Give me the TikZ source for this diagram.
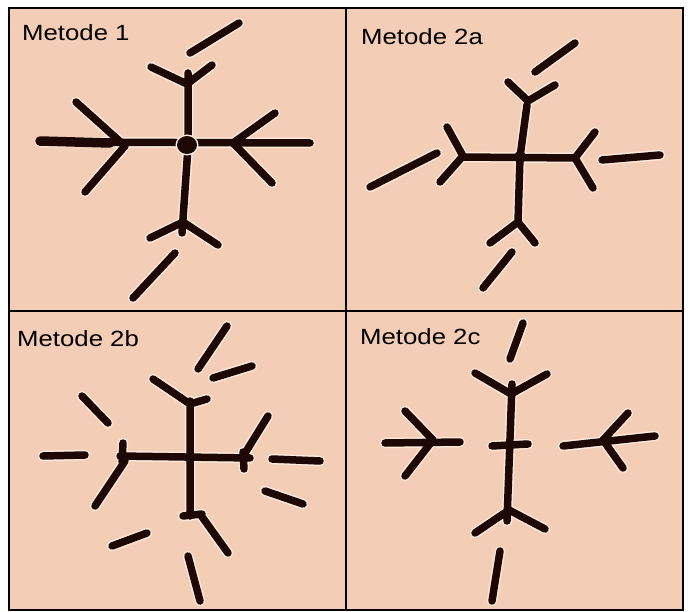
\documentclass[tikz,border=0pt]{standalone}
\usepackage{fontspec}
\setmainfont{Liberation Sans}
\definecolor{paper}{RGB}{244,205,182}
\definecolor{halo}{RGB}{252,234,222}
\definecolor{ink}{RGB}{30,8,5}
\tikzset{
  inkline/.style={draw=ink, line width=7.5pt, line cap=round, line join=round},
  haloline/.style={draw=halo, line width=10.5pt, line cap=round, line join=round},
  label/.style={anchor=base west, inner sep=0pt, font=\fontsize{22}{24}\selectfont, xscale=1.17},
  frame/.style={draw=black, line width=1.6pt}
}
% all hand-drawn strokes of the four panels, drawn with the style given
\newcommand\sketchstrokes[1]{%
  % Metode 1
  \path[#1] (190,53) -- (239,23)
    (151,67) -- (187,84) -- (212,65)
    (188,73) -- (188,147) -- (182,233)
    (40,142) -- (310,143)
    (76,102) -- (125,146) -- (85,192)
    (275,113) -- (233,143) -- (272,183)
    (150,238) -- (183,222) -- (218,245)
    (175,253) -- (133,298);
  % Metode 2a
  \path[#1] (535,72) -- (575,43)
    (508,82) -- (528,101) -- (555,85)
    (527,105) -- (520,157) -- (518,222)
    (462,157) -- (575,158)
    (447,127) -- (463,156) -- (440,182)
    (437,153) -- (370,187)
    (595,132) -- (575,158) -- (593,188)
    (602,160) -- (660,155)
    (490,243) -- (518,222) -- (535,243)
    (512,252) -- (483,288);
  % Metode 2b
  \path[#1] (227,326) -- (198,369)
    (213,378) -- (252,366)
    (153,379) -- (190,404) -- (207,399)
    (190,401) -- (190,458) -- (190,516)
    (120,456) -- (250,458)
    (123,443) -- (122,462)
    (125,461) -- (95,506)
    (82,396) -- (108,423)
    (43,456) -- (85,455)
    (268,416) -- (242,458)
    (243,452) -- (244,469)
    (272,459) -- (320,461)
    (265,491) -- (303,504)
    (183,516) -- (202,514)
    (200,514) -- (228,553)
    (112,546) -- (147,533)
    (188,556) -- (200,601);
  % Metode 2c
  \path[#1] (523,323) -- (510,359)
    (475,373) -- (511,394) -- (547,374)
    (512,384) -- (507,521)
    (492,446) -- (528,444)
    (385,443) -- (460,442)
    (405,411) -- (433,440) -- (405,476)
    (563,446) -- (655,436)
    (628,413) -- (603,440) -- (623,468)
    (475,533) -- (509,510) -- (545,529)
    (500,551) -- (492,601);
}
\begin{document}
\begin{tikzpicture}[x=1pt, y=-1pt]
  \useasboundingbox[fill=white] (0,0) rectangle (690,612);
  % paper and frame
  \fill[paper] (9,8) rectangle (683,610);
  % strokes: light edge first, then ink
  \sketchstrokes{haloline}
  \sketchstrokes{inkline}
  % heavier left end of the first cross
  \draw[ink, line width=9.5pt, line cap=round] (40,141) -- (110,143);
  % centre dots
  \fill[halo] (187,145) ellipse (11.5 and 10.5);
  \fill[ink] (187,145) ellipse (10 and 9);
  \fill[ink] (520,157) circle (6);
  \fill[ink] (190,458) circle (5);
  % frame and dividers
  \draw[frame] (9,8) rectangle (683,610);
  \draw[frame] (346,8) -- (346,610);
  \draw[frame] (9,311) -- (683,311);
  % titles
  \node[label] (t1) at (22,41) {Metode 1};
  \node[label] (t2a) at (361,45) {Metode 2a};
  \node[label] (t2b) at (17,346) {Metode 2b};
  \node[label] (t2c) at (360,344) {Metode 2c};
\end{tikzpicture}
\end{document}
